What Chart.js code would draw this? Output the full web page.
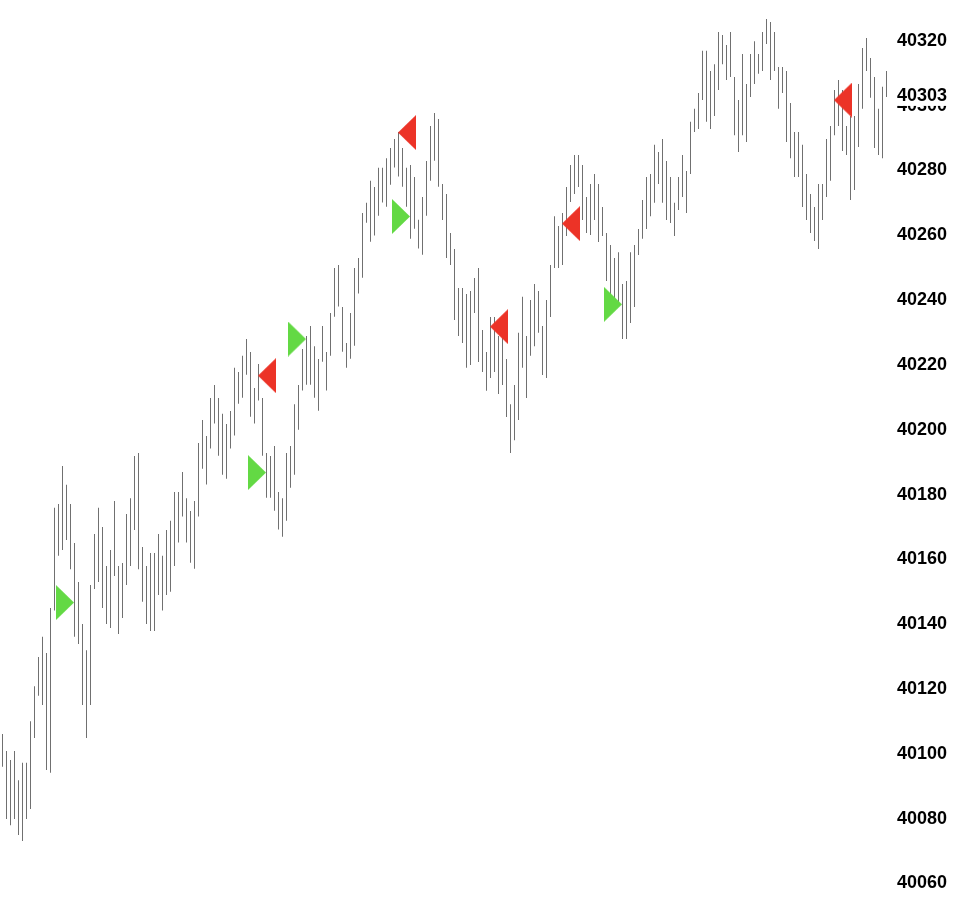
<!DOCTYPE html>
<html>
<head>
<meta charset="utf-8">
<script src="https://cdn.jsdelivr.net/npm/chart.js@4/dist/chart.umd.min.js"></script>
<style>
html,body{margin:0;padding:0;background:#fff;}
canvas{display:block;}
</style>
</head>
<body>
<canvas id="c" width="958" height="901"></canvas>
<script>
// ---- data ----
const highs = [
40106.1,40100.9,40098.1,40100.9,40091.9,40097.3,40097.3,40110.1,40120.9,40129.9,
40136.1,40131.1,40145.0,40175.9,40177.1,40188.8,40183.0,40177.1,40165.1,40153.0,
40140.1,40132.0,40152.1,40167.8,40175.9,40170.0,40158.0,40162.9,40178.0,40158.0,
40158.9,40174.0,40178.9,40191.9,40192.8,40163.8,40158.0,40162.0,40162.0,40167.8,
40161.1,40169.1,40171.9,40180.8,40180.8,40187.0,40178.9,40174.9,40178.0,40195.9,
40203.0,40198.1,40209.8,40213.8,40209.8,40204.9,40201.8,40205.8,40219.1,40217.8,
40222.8,40228.0,40224.0,40212.9,40220.3,40209.8,40192.8,40191.9,40195.0,40180.8,
40178.9,40192.8,40195.0,40207.9,40213.8,40224.9,40228.9,40232.0,40225.8,40221.8,
40232.0,40224.0,40236.0,40249.9,40250.8,40237.9,40226.8,40236.0,40249.9,40253.0,
40266.9,40270.0,40276.8,40274.9,40280.8,40280.8,40283.8,40286.9,40289.7,40291.9,
40286.9,40280.8,40281.7,40278.0,40264.8,40271.8,40282.9,40293.7,40297.7,40295.9,
40275.8,40272.7,40260.7,40255.8,40243.7,40243.7,40241.9,40242.8,40246.8,40249.9,
40230.8,40224.0,40234.8,40234.8,40228.9,40228.3,40221.8,40207.9,40213.8,40229.9,
40241.0,40228.9,40240.0,40245.0,40242.8,40232.0,40240.0,40250.8,40265.9,40262.9,
40266.9,40274.9,40281.7,40284.8,40284.8,40281.7,40271.8,40275.8,40278.9,40275.8,
40268.7,40260.7,40257.0,40253.0,40254.8,40245.0,40245.9,40254.8,40257.0,40261.9,
40270.9,40278.0,40278.9,40287.9,40285.7,40289.7,40282.9,40278.0,40270.0,40278.0,
40284.8,40279.8,40295.0,40299.0,40303.9,40316.9,40316.9,40310.7,40312.8,40322.7,
40321.8,40318.7,40322.7,40308.8,40301.7,40315.9,40306.7,40315.9,40319.9,40315.9,
40322.7,40326.7,40325.8,40322.7,40311.9,40311.9,40310.7,40300.8,40291.9,40291.9,
40287.9,40278.9,40272.7,40268.7,40275.8,40275.8,40289.7,40293.7,40304.8,40307.9,
40304.8,40293.7,40296.8,40296.8,40306.7,40317.8,40320.9,40314.7,40308.8,40299.0,
40305.8,40310.7
];
const lows = [
40096.0,40079.9,40078.0,40079.9,40075.0,40073.1,40079.9,40083.0,40104.9,40117.9,
40115.1,40095.0,40094.2,40144.2,40161.1,40162.9,40166.0,40157.0,40136.1,40133.9,
40115.1,40104.9,40115.1,40150.9,40153.0,40145.0,40140.1,40138.8,40154.9,40137.0,
40141.9,40152.1,40158.0,40169.1,40157.0,40146.9,40140.1,40137.9,40137.9,40149.0,
40144.2,40149.0,40150.0,40158.0,40165.2,40173.2,40165.2,40159.0,40157.1,40173.2,
40188.0,40183.1,40194.2,40201.9,40192.0,40186.1,40184.9,40194.2,40198.2,40208.0,
40209.9,40217.0,40204.0,40201.9,40209.0,40192.0,40179.0,40179.0,40175.0,40169.2,
40167.0,40171.9,40182.1,40186.1,40200.0,40212.1,40213.9,40213.9,40209.9,40205.9,
40221.0,40212.1,40222.8,40234.9,40238.0,40224.1,40219.1,40221.9,40225.9,40242.0,
40246.9,40263.9,40258.0,40259.9,40266.0,40270.1,40268.8,40275.6,40280.9,40278.1,
40275.0,40268.8,40258.9,40262.0,40255.9,40254.0,40266.0,40276.8,40283.0,40275.0,
40264.7,40253.0,40250.8,40233.9,40228.9,40226.8,40219.1,40220.0,40236.0,40220.9,
40217.8,40212.0,40216.0,40217.8,40211.0,40213.8,40203.9,40192.8,40196.8,40203.0,
40219.1,40209.8,40222.8,40225.8,40229.9,40216.9,40216.0,40234.8,40249.9,40249.9,
40250.8,40259.8,40270.3,40272.7,40274.9,40264.7,40260.7,40260.1,40264.7,40257.9,
40259.8,40245.9,40241.6,40240.0,40239.1,40228.0,40228.0,40232.9,40237.9,40253.9,
40258.9,40261.9,40265.9,40270.0,40275.8,40270.0,40264.7,40263.8,40259.8,40267.8,
40271.8,40266.9,40278.9,40291.9,40292.8,40301.7,40295.0,40292.8,40296.8,40304.8,
40312.8,40307.9,40308.8,40290.9,40285.7,40290.9,40288.8,40302.7,40306.7,40309.8,
40310.7,40319.0,40307.9,40310.7,40299.0,40303.9,40288.8,40283.8,40278.0,40278.0,
40268.7,40264.7,40260.7,40258.2,40255.8,40264.7,40271.8,40276.8,40290.9,40293.7,
40286.0,40284.8,40270.9,40274.0,40287.2,40299.0,40310.7,40302.4,40286.9,40284.8,
40283.8,40302.7
];
const buyBars   = [13, 61, 71, 97, 150];
const buyPrices = [40146.7, 40186.8, 40228.0, 40265.8, 40238.7];
const sellBars   = [64, 99, 122, 140, 208];
const sellPrices = [40216.7, 40291.7, 40231.8, 40263.6, 40301.7];
const tickValues = [40060,40080,40100,40120,40140,40160,40180,40200,40220,40240,40260,40280,40300,40320];
const currentPrice = 40303;
const priceMin = 40054.61, priceMax = 40332.59;

// ---- marker images ----
function makeTriangle(dir, color) {
  const c = document.createElement('canvas');
  const w = dir === 'right' ? 39 : 35;
  c.width = w; c.height = 35;
  const g = c.getContext('2d');
  g.fillStyle = color;
  g.beginPath();
  if (dir === 'right') {
    g.moveTo(21, 0); g.lineTo(39, 17.5); g.lineTo(21, 35);
  } else {
    g.moveTo(17, 17.5); g.lineTo(35, 0); g.lineTo(35, 35);
  }
  g.closePath();
  g.fill();
  return c;
}
const greenTri = makeTriangle('right', '#63D944');
const redTri = makeTriangle('left', '#EC3327');

const barData = highs.map((h, i) => ({ x: i, y: [lows[i], h] }));
const buyData = buyBars.map((b, k) => ({ x: b, y: buyPrices[k] }));
const sellData = sellBars.map((b, k) => ({ x: b, y: sellPrices[k] }));

const FONT = { family: '"Liberation Sans", Arial, sans-serif', size: 18, weight: 'bold' };

const priceLabel = {
  id: 'priceLabel',
  afterDraw(chart) {
    const ys = chart.scales.y;
    const y = ys.getPixelForValue(currentPrice);
    const ctx = chart.ctx;
    ctx.save();
    ctx.fillStyle = '#fff';
    ctx.fillRect(ys.left, y - 11, ys.width, 21);
    ctx.fillStyle = '#000';
    ctx.font = 'bold 18px "Liberation Sans", Arial, sans-serif';
    ctx.textAlign = 'left';
    ctx.textBaseline = 'middle';
    ctx.fillText(String(currentPrice), ys.left + 5, y);
    ctx.restore();
  }
};

new Chart(document.getElementById('c'), {
  data: {
    datasets: [
      { type: 'scatter', data: buyData, pointStyle: greenTri, pointRadius: 10, pointHoverRadius: 10 },
      { type: 'scatter', data: sellData, pointStyle: redTri, pointRadius: 10, pointHoverRadius: 10 },
      { type: 'bar', data: barData, backgroundColor: '#707070', borderWidth: 0,
        barThickness: 1, inflateAmount: 0, grouped: false }
    ]
  },
  options: {
    responsive: false,
    animation: false,
    events: [],
    layout: { padding: 0, autoPadding: false },
    plugins: { legend: { display: false }, tooltip: { enabled: false } },
    scales: {
      x: { type: 'linear', min: -0.625, max: 222.375, display: false,
           offset: false },
      y: {
        type: 'linear', position: 'right', min: priceMin, max: priceMax,
        grid: { display: false, drawTicks: false },
        border: { display: false },
        ticks: { color: '#000', font: FONT, padding: 5, callback: v => String(v) },
        afterBuildTicks: s => { s.ticks = tickValues.map(v => ({ value: v })); },
        afterFit: s => { s.width = 66; s.paddingTop = 0; s.paddingBottom = 0; }
      }
    }
  },
  plugins: [priceLabel]
});
</script>
</body>
</html>
